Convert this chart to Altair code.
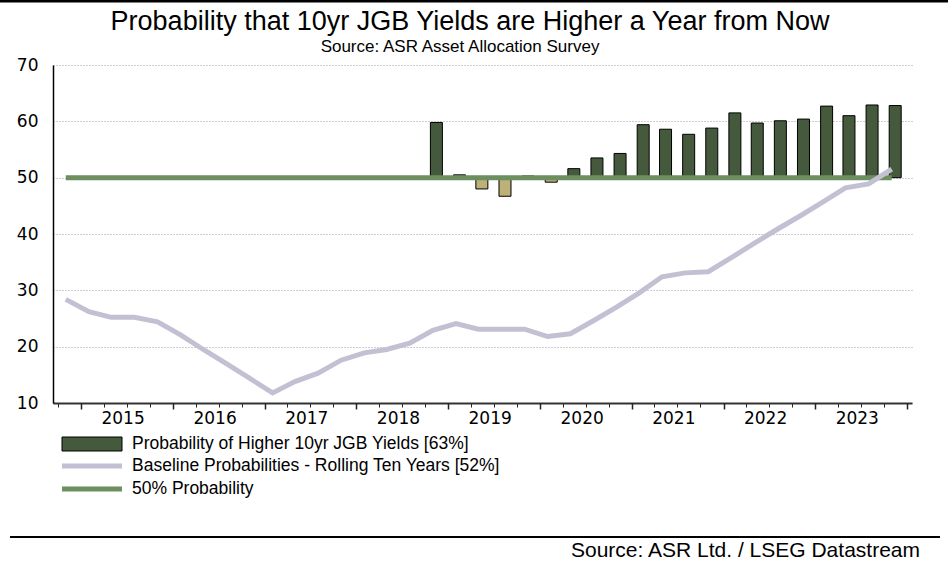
import altair as alt
import pandas as pd

FONT = "DejaVu Sans"
TFONT = "Liberation Sans"

# ---- data -------------------------------------------------------------
line_dates = []
for i in range(37):
    total = 2014 * 12 + 10 + 3 * i          # start: November 2014
    line_dates.append(f"{total // 12}-{total % 12 + 1:02d}-01")

baseline = [28.4, 26.2, 25.2, 25.2, 24.4, 22.1, 19.5, 17.0, 14.4, 11.8,
            13.8, 15.3, 17.6, 18.9, 19.5, 20.6, 22.9, 24.1, 23.1, 23.1,
            23.1, 21.8, 22.3, 24.6, 27.0, 29.6, 32.4, 33.1, 33.3, 35.8,
            38.3, 40.8, 43.2, 45.7, 48.2, 48.9, 51.5]

bar_dates = [d[:-2] + "15" for d in line_dates[16:]]
prob_higher = [59.8, 50.5, 48.0, 46.7, 50.3, 49.2, 51.6, 53.5, 54.3, 59.4,
               58.6, 57.7, 58.8, 61.5, 59.7, 60.1, 60.4, 62.7, 61.0, 62.9, 62.8]

fifty = [50.0] * len(line_dates)

years = list(range(2015, 2024))
y_ticks = [10, 20, 30, 40, 50, 60, 70]

title_text = "Probability that 10yr JGB Yields are Higher a Year from Now"
subtitle_text = "Source: ASR Asset Allocation Survey"
source_text = "Source: ASR Ltd. / LSEG Datastream"
legend_labels = ["Probability of Higher 10yr JGB Yields [63%]",
                 "Baseline Probabilities - Rolling Ten Years [52%]",
                 "50% Probability"]

df_line = pd.DataFrame({"date": line_dates, "value": baseline, "fifty": fifty})
df_bar = pd.DataFrame({"date": bar_dates, "prob": prob_higher})
df_bar["base"] = 50.0

# ---- colours ----------------------------------------------------------
C_BAR = "#455a3d"
C_NEG = "#bdb078"
C_BASE = "#c2c1d4"
C_FIFTY = "#6d8f5f"

# ---- scales / axes ----------------------------------------------------
xscale = alt.Scale(domain=[alt.DateTime(year=2014, month=10, date=1),
                           alt.DateTime(year=2024, month=1, date=1)])
yscale = alt.Scale(domain=[10, 70], nice=False, zero=False)
yaxis = alt.Axis(values=y_ticks, title=None, grid=True, gridColor="#9a9a9a",
                 gridDash=[1, 2], gridWidth=1, ticks=False, domain=True,
                 domainColor="#000000", domainWidth=1.5, labelFont=FONT,
                 labelFontSize=17, labelColor="#000000", labelPadding=15)

quarter_ticks = [alt.DateTime(year=y, month=m, date=1)
                 for y in range(2014, 2024) for m in (1, 4, 7, 10)
                 if not (y == 2014 and m < 10)]
year_ticks = [alt.DateTime(year=y, month=1, date=1) for y in years + [2024]]
mid_years = [alt.DateTime(year=y, month=7, date=1) for y in years]

ax_minor = alt.Axis(values=quarter_ticks, labels=False, title=None, grid=False,
                    orient="bottom", tickSize=4, tickColor="#222222", domain=True,
                    domainColor="#333333", domainWidth=2)
ax_major = alt.Axis(values=year_ticks, labels=False, title=None, grid=False,
                    orient="bottom", tickSize=6, tickColor="#222222",
                    tickWidth=1.5, domain=False)
ax_labels = alt.Axis(values=mid_years, format="%Y", title=None, grid=False,
                     orient="bottom", ticks=False, domain=False, labelFont=FONT,
                     labelFontSize=17, labelColor="#000000", labelPadding=7,
                     labelOffset=-4)

bars = alt.Chart(df_bar).mark_bar(width=12, stroke="#000000", strokeWidth=1).encode(
    x=alt.X("date:T", scale=xscale, axis=ax_minor),
    y=alt.Y("prob:Q", scale=yscale, axis=yaxis),
    y2="base:Q",
    color=alt.condition(alt.datum.prob >= 50, alt.value(C_BAR), alt.value(C_NEG)),
)

fifty_line = alt.Chart(df_line).mark_line(color=C_FIFTY, strokeWidth=5).encode(
    x=alt.X("date:T", scale=xscale, axis=ax_major),
    y=alt.Y("fifty:Q", scale=yscale, axis=yaxis),
)

base_line = alt.Chart(df_line).mark_line(color=C_BASE, strokeWidth=5).encode(
    x=alt.X("date:T", scale=xscale, axis=ax_labels),
    y=alt.Y("value:Q", scale=yscale, axis=yaxis),
)

one = pd.DataFrame({"a": [0]})

# ---- annotation layers (positions relative to plot origin 53,65) -------
title = alt.Chart(one).mark_text(text=title_text, font=TFONT, fontSize=27,
                                 align="center", baseline="middle", color="#000").encode(
    x=alt.value(417), y=alt.value(-43))
subtitle = alt.Chart(one).mark_text(text=subtitle_text, font=TFONT, fontSize=17,
                                    align="center", baseline="middle", color="#000").encode(
    x=alt.value(407), y=alt.value(-18))
top_rule = alt.Chart(one).mark_rule(color="#000", strokeWidth=3).encode(
    x=alt.value(-53), x2=alt.value(895), y=alt.value(-64))
bottom_rule = alt.Chart(one).mark_rule(color="#000", strokeWidth=2).encode(
    x=alt.value(-43), x2=alt.value(887), y=alt.value(472))
source = alt.Chart(one).mark_text(text=source_text, font=TFONT, fontSize=21,
                                  align="right", baseline="middle", color="#000").encode(
    x=alt.value(867), y=alt.value(486))

leg_rect = alt.Chart(one).mark_rect(color=C_BAR, stroke="#000", strokeWidth=1).encode(
    x=alt.value(9), x2=alt.value(69), y=alt.value(372), y2=alt.value(386))
leg_base = alt.Chart(one).mark_rule(color=C_BASE, strokeWidth=5).encode(
    x=alt.value(9), x2=alt.value(69), y=alt.value(401))
leg_fifty = alt.Chart(one).mark_rule(color=C_FIFTY, strokeWidth=5).encode(
    x=alt.value(9), x2=alt.value(69), y=alt.value(424))
leg_t1 = alt.Chart(one).mark_text(text=legend_labels[0], font=TFONT, fontSize=17.5,
                                  align="left", baseline="middle", color="#000").encode(
    x=alt.value(79), y=alt.value(379))
leg_t2 = alt.Chart(one).mark_text(text=legend_labels[1], font=TFONT, fontSize=17.5,
                                  align="left", baseline="middle", color="#000").encode(
    x=alt.value(79), y=alt.value(401))
leg_t3 = alt.Chart(one).mark_text(text=legend_labels[2], font=TFONT, fontSize=17.5,
                                  align="left", baseline="middle", color="#000").encode(
    x=alt.value(79), y=alt.value(424))

chart = alt.layer(
    bars, fifty_line, base_line,
    title, subtitle, top_rule, bottom_rule, source,
    leg_rect, leg_base, leg_fifty, leg_t1, leg_t2, leg_t3,
).resolve_axis(x="independent").properties(
    width=859, height=338,
    padding={"left": 53, "top": 65, "right": 36, "bottom": 158},
    autosize=alt.AutoSizeParams(type="none"),
    background="#ffffff",
).configure_view(stroke=None)

chart.save("out.html", embed_options={"renderer": "svg", "actions": False})
